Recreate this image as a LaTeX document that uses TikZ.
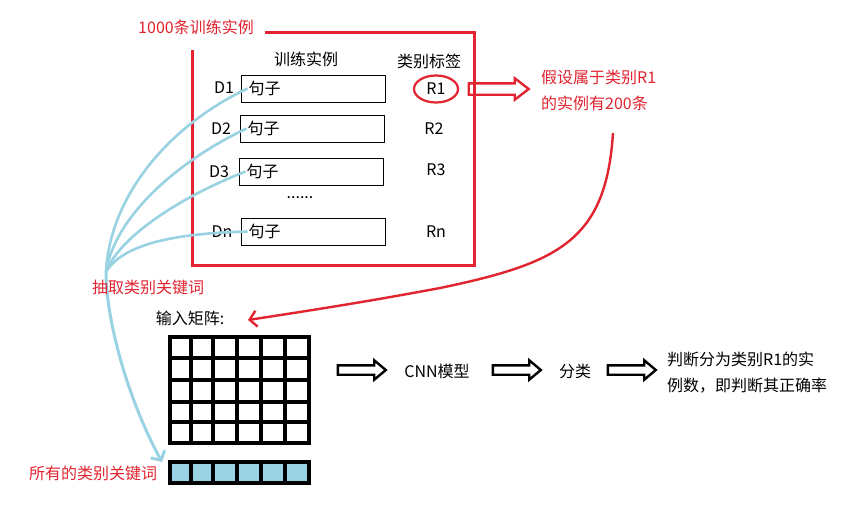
\documentclass[tikz,border=0pt]{standalone}
\usepackage{fontspec}
\setmainfont{Noto Sans CJK SC}
\usetikzlibrary{shapes.arrows,shapes.geometric,arrows.meta}
\definecolor{myred}{RGB}{226,35,48}
\definecolor{myblue}{RGB}{153,210,226}
\begin{document}
\begin{tikzpicture}[x=1pt,y=-1pt,
  txt/.style={font=\fontsize{16}{19}\selectfont, inner sep=1pt},
  rtxt/.style={txt, text=myred},
  sbox/.style={draw=black, line width=1pt, minimum width=144pt, minimum height=27pt, inner sep=0pt},
  harrow/.style={single arrow, draw=black, line width=2.4pt, minimum width=18pt, inner xsep=0pt, inner ysep=3.5pt, single arrow head extend=5pt, single arrow tip angle=80, minimum height=48pt},
  blueline/.style={draw=myblue, line width=2.6pt},
  redframe/.style={draw=myred, line width=3pt},
  cell/.style={line width=3.6pt}
]
\useasboundingbox[fill=white] (0,0) rectangle (846,506);

% top frame
\node[rtxt] (title) at (196,27) {1000条训练实例};
\coordinate (ftl) at (265,32);
\draw[redframe] (ftl) -- (474,32) -- (474,265) -- (192,265) -- (192,50);

\node[txt] (hd1) at (306,59) {训练实例};
\node[txt] (hd2) at (429,61) {类别标签};

% rows
\node[sbox] (b1) at (313,88.5) {};
\node[sbox] (b2) at (312,128.5) {};
\node[sbox] (b3) at (311,171.5) {};
\node[sbox] (bn) at (313,231.5) {};
\node[txt, anchor=west] (s1) at ([xshift=7pt]b1.west) {句子};
\node[txt, anchor=west] (s2) at ([xshift=7pt]b2.west) {句子};
\node[txt, anchor=west] (s3) at ([xshift=7pt]b3.west) {句子};
\node[txt, anchor=west] (sn) at ([xshift=7pt]bn.west) {句子};
\node[txt] (d1) at (224,88) {D1};
\node[txt] (d2) at (221,129) {D2};
\node[txt] (d3) at (219,172) {D3};
\node[txt] (dn) at (222,232) {Dn};
\node[txt] (dots) at (300,198) {......};

\node[txt] (r1) at (436,89) {R1};
\node[draw=myred, line width=2.2pt, ellipse, minimum width=44pt, minimum height=27pt] (e1) at (436,89) {};
\node[txt] (r2) at (434,129) {R2};
\node[txt] (r3) at (436,170) {R3};
\node[txt] (rn) at (436,232) {Rn};

% red hollow arrow
\node[harrow, draw=myred, minimum height=60pt, minimum width=21pt, inner ysep=4.5pt, single arrow head extend=5pt, single arrow tip angle=75] (ra) at (495,89) {};
\node[rtxt, anchor=west, align=left] (note1) at (540,77) {假设属于类别R1};
\node[rtxt, anchor=west, align=left] (note2) at (540,103) {的实例有200条};

% red curved arrow
\coordinate (rc0) at (613,133);
\coordinate (rc1) at (440,288);
\coordinate (rcend) at (248,320);
\draw[myred, line width=2.4pt, -{Straight Barb[length=7pt,width=16pt]}]
  (rc0) .. controls (606,240) and (560,263) .. (rc1)
  .. controls (360,303) and (300,312) .. (rcend);

% blue curves
\coordinate (hub) at (106,272);
\coordinate (kwend) at (162,462);
\draw[blueline] (s1.west) .. controls (170,125) and (110,195) .. (hub);
\draw[blueline] (s2.west) .. controls (180,160) and (115,215) .. (hub);
\draw[blueline] (s3.west) .. controls (185,195) and (120,235) .. (hub);
\draw[blueline] (sn.west) .. controls (190,233) and (125,240) .. (hub);
\draw[blueline, line width=3pt, -{Straight Barb[length=7pt,width=16pt]}] (hub) .. controls (106,320) and (128,400) .. (kwend);

\node[rtxt] (extract) at (148,287) {抽取类别关键词};
\node[txt] (inlabel) at (190,318) {输入矩阵:};

% matrix
\foreach \x in {170,191,213,237,261,285,309} \draw[cell] (\x,337) -- (\x,443);
\foreach \y in {337,358,380,402,422,443} \draw[cell] (168.2,\y) -- (310.8,\y);

% keyword row
\fill[myblue] (170,462) rectangle (309,483);
\foreach \x in {170,191,213,237,261,285,309} \draw[cell] (\x,462) -- (\x,483);
\foreach \y in {462,483} \draw[cell] (168.2,\y) -- (310.8,\y);
\node[rtxt] (allkw) at (93,473) {所有的类别关键词};

% pipeline
\node[harrow] (a1) at (359,370) {};
\node[txt] (cnn) at (437,371) {CNN模型};
\node[harrow] (a2) at (514,370) {};
\node[txt] (cls) at (575,371) {分类};
\node[harrow] (a3) at (629,370) {};
\node[txt, anchor=west] (res1) at (666,359) {判断分为类别R1的实};
\node[txt, anchor=west] (res2) at (666,386) {例数，即判断其正确率};
\end{tikzpicture}
\end{document}
